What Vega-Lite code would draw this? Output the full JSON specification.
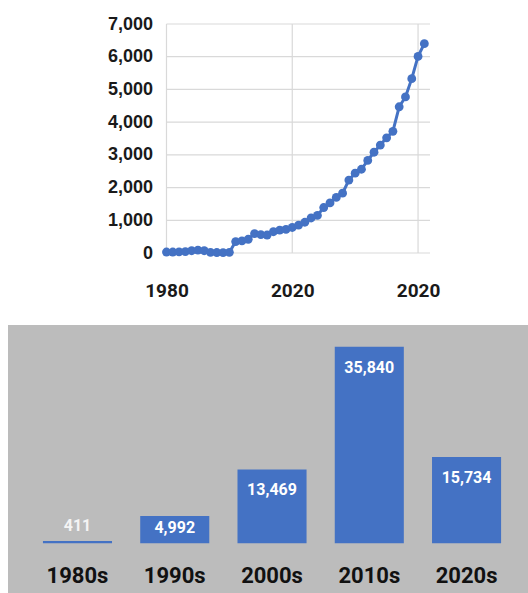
{
  "$schema": "https://vega.github.io/schema/vega-lite/v6.json",
  "background": "white",
  "padding": {"left": 8, "top": 15, "right": 0, "bottom": 0},
  "config": {"view": {"stroke": null}, "axis": {"labelOverlap": false, "labelBound": false}},
  "bounds": "flush",
  "spacing": 72,
  "vconcat": [
    {
      "width": 422,
      "height": 229,
      "layer": [
        {
          "data": {"values": [{"g": 0}, {"g": 1000}, {"g": 2000}, {"g": 3000}, {"g": 4000}, {"g": 5000}, {"g": 6000}, {"g": 7000}]},
          "mark": {"type": "rule", "color": "#d9d9d9", "strokeWidth": 1.2},
          "encoding": {
            "y": {
              "field": "g",
              "type": "quantitative",
              "title": null,
              "scale": {"domain": [0, 7000], "nice": false},
              "axis": {
                "values": [0, 1000, 2000, 3000, 4000, 5000, 6000, 7000],
                "tickCount": 8,
                "format": ",d",
                "grid": false,
                "domain": false,
                "ticks": false,
                "labelOverlap": false,
                "offset": -158.5,
                "labelPadding": 14,
                "labelFont": "Liberation Sans",
                "labelFontWeight": "bold",
                "labelFontSize": 18,
                "labelColor": "#1a1a1a"
              }
            },
            "x": {"datum": 1980, "type": "quantitative"},
            "x2": {"datum": 2021.9}
          }
        },
        {
          "data": {"values": [{"yr": 1980}, {"yr": 2000}, {"yr": 2020}]},
          "mark": {"type": "rule", "color": "#d9d9d9", "strokeWidth": 1.2},
          "encoding": {
            "x": {"field": "yr", "type": "quantitative", "title": null},
            "y": {"datum": 0, "type": "quantitative"},
            "y2": {"datum": 7000}
          }
        },
        {
          "data": {
            "values": [
              {"year": 1980, "count": 30}, {"year": 1981, "count": 30}, {"year": 1982, "count": 35},
              {"year": 1983, "count": 40}, {"year": 1984, "count": 70}, {"year": 1985, "count": 90},
              {"year": 1986, "count": 70}, {"year": 1987, "count": 20}, {"year": 1988, "count": 15},
              {"year": 1989, "count": 11}, {"year": 1990, "count": 20}, {"year": 1991, "count": 350},
              {"year": 1992, "count": 370}, {"year": 1993, "count": 420}, {"year": 1994, "count": 590},
              {"year": 1995, "count": 560}, {"year": 1996, "count": 550}, {"year": 1997, "count": 650},
              {"year": 1998, "count": 700}, {"year": 1999, "count": 720}, {"year": 2000, "count": 780},
              {"year": 2001, "count": 850}, {"year": 2002, "count": 940}, {"year": 2003, "count": 1070},
              {"year": 2004, "count": 1150}, {"year": 2005, "count": 1390}, {"year": 2006, "count": 1530},
              {"year": 2007, "count": 1700}, {"year": 2008, "count": 1830}, {"year": 2009, "count": 2230},
              {"year": 2010, "count": 2440}, {"year": 2011, "count": 2560}, {"year": 2012, "count": 2830},
              {"year": 2013, "count": 3080}, {"year": 2014, "count": 3300}, {"year": 2015, "count": 3520},
              {"year": 2016, "count": 3720}, {"year": 2017, "count": 4470}, {"year": 2018, "count": 4770},
              {"year": 2019, "count": 5330}, {"year": 2020, "count": 6010}, {"year": 2021, "count": 6400}
            ]
          },
          "mark": {
            "type": "line",
            "color": "#4472c4",
            "strokeWidth": 3,
            "point": {"filled": true, "size": 78, "color": "#4472c4", "opacity": 1}
          },
          "encoding": {
            "x": {
              "field": "year",
              "type": "quantitative",
              "title": null,
              "scale": {"domain": [1954.8, 2021.9], "nice": false, "zero": false},
              "axis": {
                "values": [1980, 2000, 2020],
                "format": "d",
                "labelExpr": "datum.value === 2000 ? '2020' : datum.label",
                "grid": false,
                "domain": false,
                "ticks": false,
                "labelOverlap": false,
                "labelPadding": 37,
                "labelBaseline": "middle",
                "labelFont": "Roboto",
                "labelFontWeight": "bold",
                "labelFontSize": 19,
                "labelColor": "#1a1a1a"
              }
            },
            "y": {
              "field": "count",
              "type": "quantitative",
              "title": null
            }
          }
        }
      ]
    },
    {
      "width": 520,
      "height": 268,
      "view": {"fill": "#bcbcbc", "stroke": null},
      "data": {
        "values": [
          {"decade": "1980s", "count": 411},
          {"decade": "1990s", "count": 4992},
          {"decade": "2000s", "count": 13469},
          {"decade": "2010s", "count": 35840},
          {"decade": "2020s", "count": 15734}
        ]
      },
      "encoding": {
        "x": {
          "field": "decade",
          "type": "nominal",
          "sort": null,
          "title": null,
          "scale": {"paddingInner": 0.29, "paddingOuter": 0.318, "align": 0.565},
          "axis": {
            "labelAngle": 0,
            "domain": false,
            "ticks": false,
            "offset": -18,
            "labelPadding": 0,
            "labelBaseline": "middle",
            "labelFont": "Roboto",
            "labelFontWeight": "bold",
            "labelFontSize": 22,
            "labelColor": "#111111"
          }
        },
        "y": {
          "field": "count",
          "type": "quantitative",
          "title": null,
          "scale": {"domain": [-9060, 39800], "nice": false, "zero": false},
          "axis": null
        }
      },
      "layer": [
        {
          "mark": {"type": "bar", "color": "#4472c4"},
          "encoding": {"y2": {"datum": 0}}
        },
        {
          "transform": [{"filter": "datum.count < 1000"}],
          "mark": {"type": "text", "color": "#f4f4f4", "dy": -15, "font": "Roboto", "fontWeight": "bold", "fontSize": 16, "baseline": "middle"},
          "encoding": {"text": {"field": "count", "type": "quantitative", "format": ","}}
        },
        {
          "transform": [{"filter": "datum.count >= 1000 && datum.count < 10000"}],
          "mark": {"type": "text", "color": "white", "dy": 12, "font": "Roboto", "fontWeight": "bold", "fontSize": 16, "baseline": "middle"},
          "encoding": {"text": {"field": "count", "type": "quantitative", "format": ","}}
        },
        {
          "transform": [{"filter": "datum.count >= 10000"}],
          "mark": {"type": "text", "color": "white", "dy": 21, "font": "Roboto", "fontWeight": "bold", "fontSize": 16, "baseline": "middle"},
          "encoding": {"text": {"field": "count", "type": "quantitative", "format": ","}}
        }
      ]
    }
  ]
}
